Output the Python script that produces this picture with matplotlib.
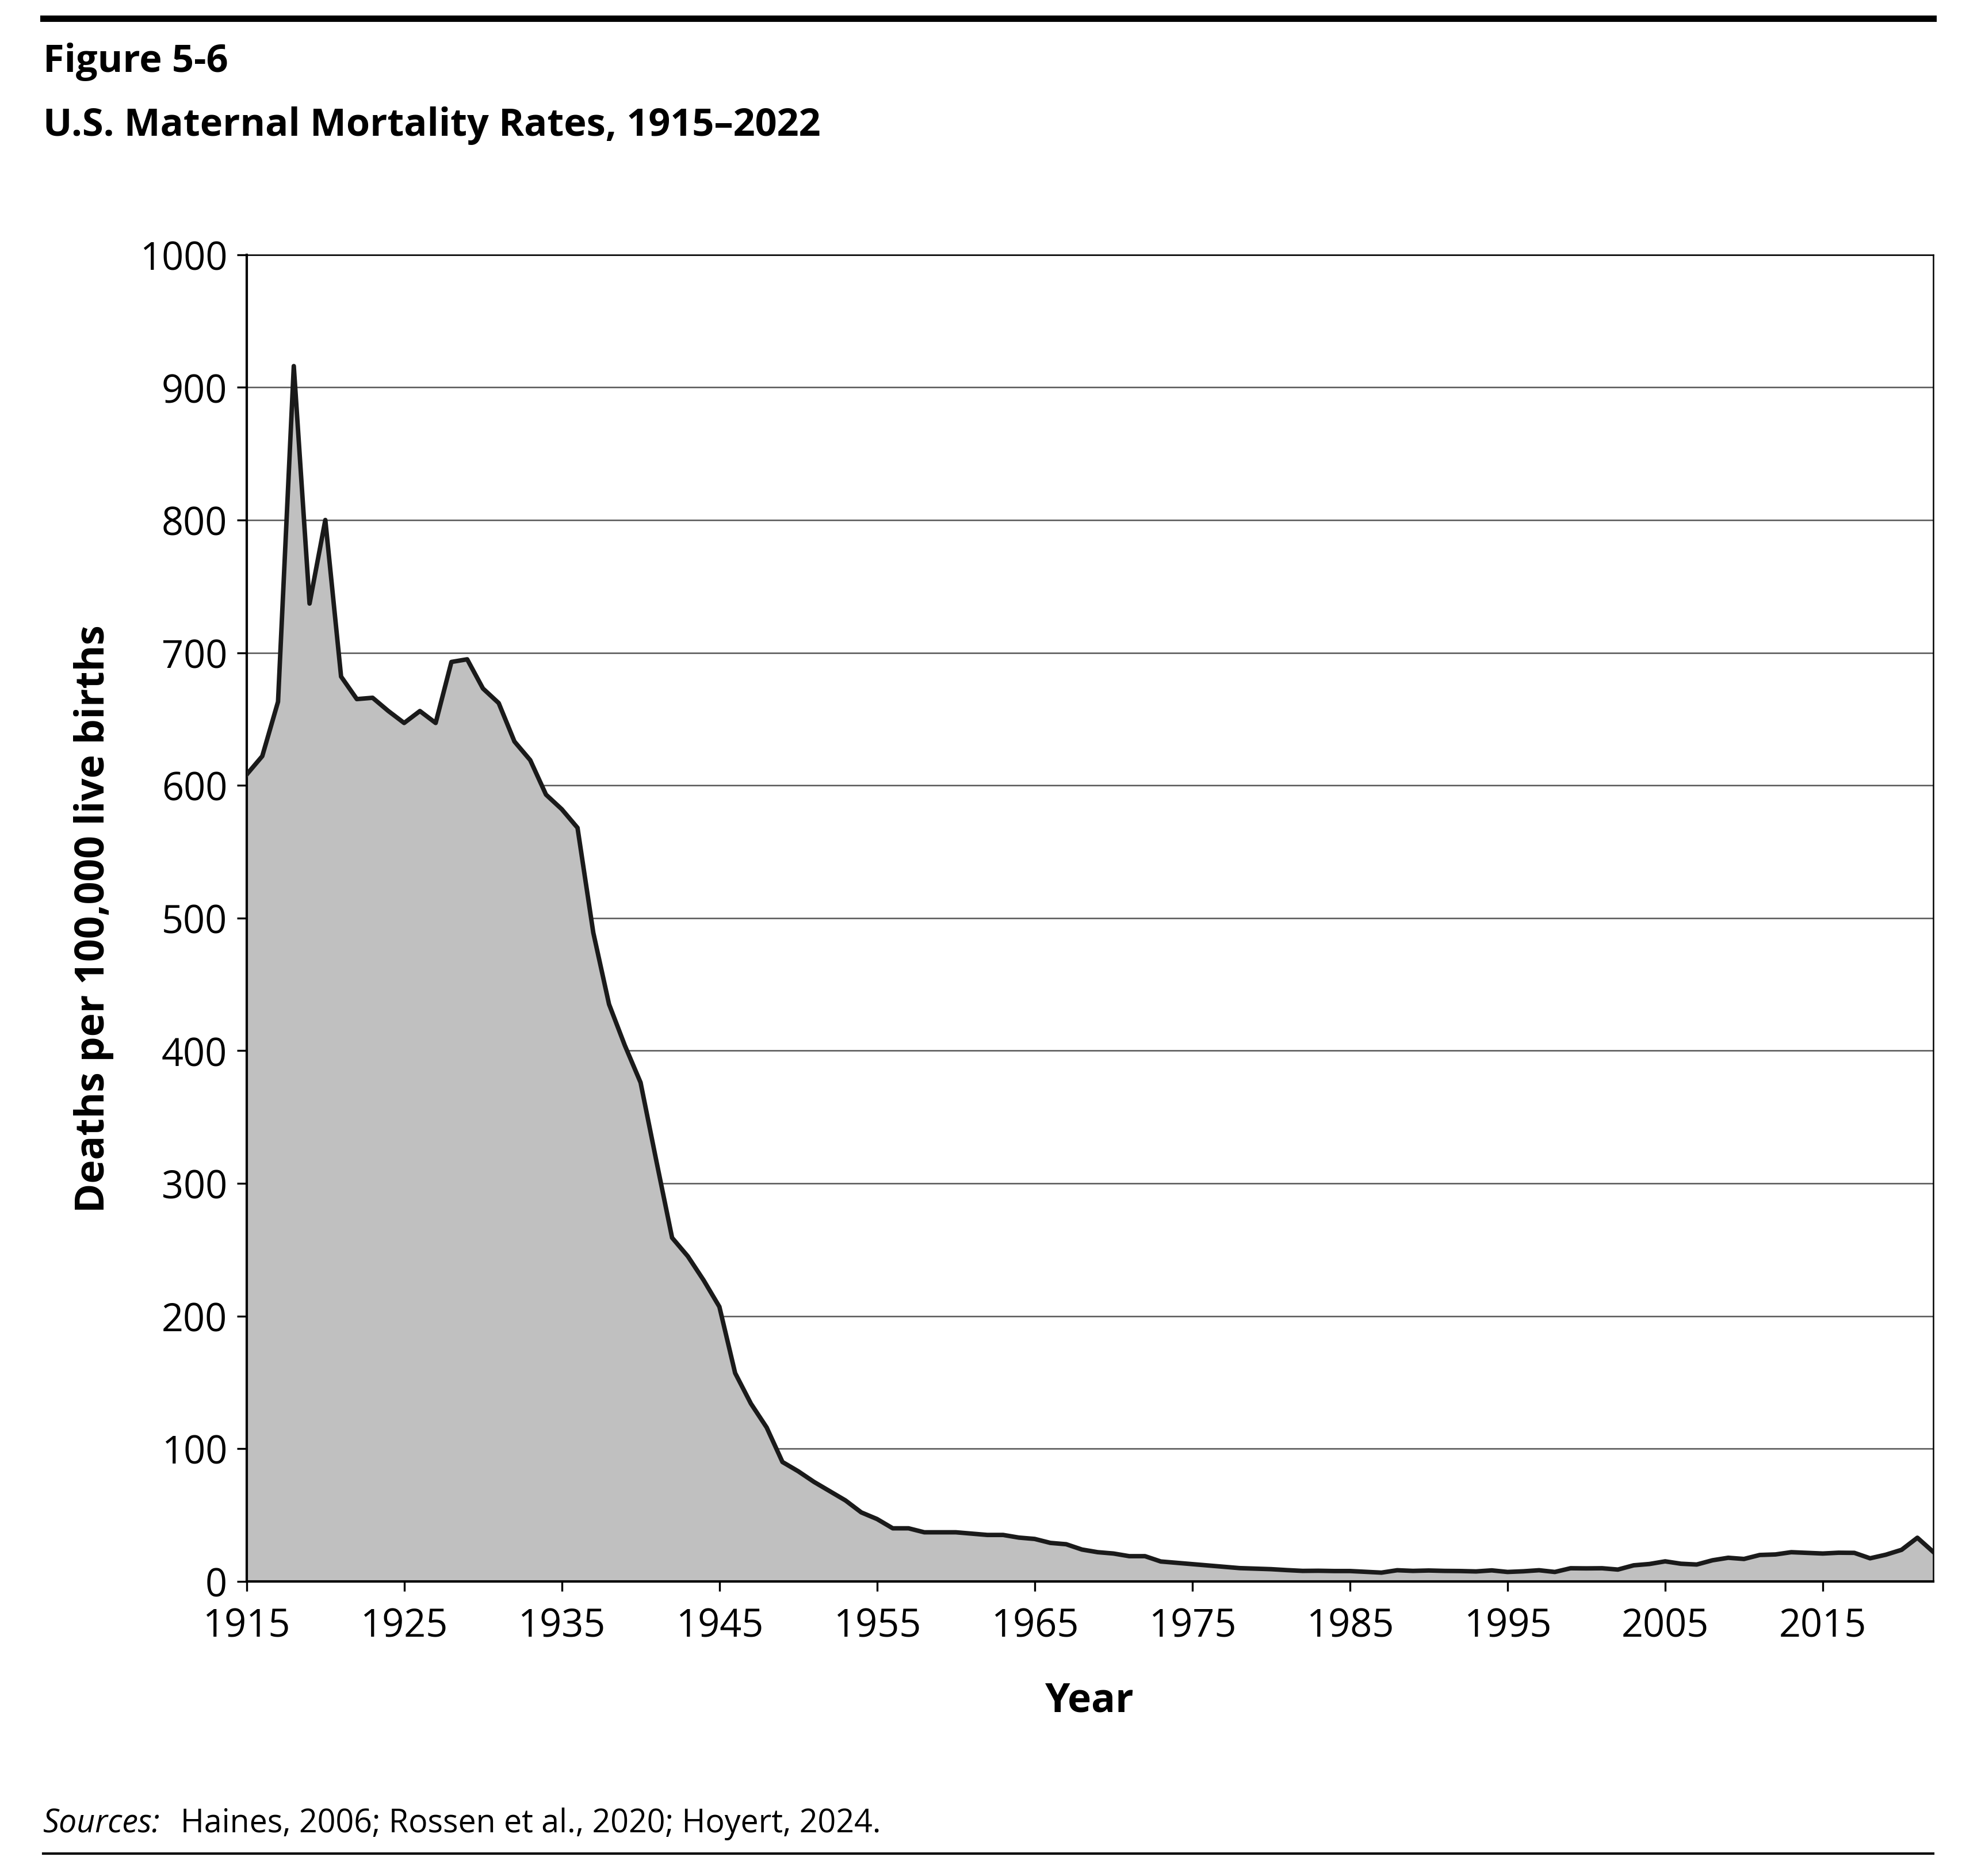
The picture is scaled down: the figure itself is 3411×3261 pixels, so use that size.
import matplotlib
matplotlib.use("Agg")
import matplotlib.pyplot as plt

years = list(range(1915, 2023))
rates = [608, 622, 663, 916, 737, 800, 682, 665, 666, 656,
         647, 656, 647, 693, 695, 673, 662, 633, 619, 593,
         582, 568, 489, 435, 404, 376, 317, 259, 245, 227,
         207, 157, 134, 116, 90, 83, 75, 68, 61, 52,
         47, 40, 40, 37, 37, 37, 36, 35, 35, 33,
         32, 29, 28, 24, 22, 21, 19, 19, 15, 14,
         13, 12, 11, 10, 9.6, 9.2, 8.5, 7.9, 8.0, 7.8,
         7.8, 7.2, 6.6, 8.4, 7.9, 8.2, 7.9, 7.8, 7.5, 8.3,
         7.1, 7.6, 8.4, 7.1, 9.9, 9.8, 9.9, 8.9, 12.1, 13.1,
         15.1, 13.3, 12.7, 15.9, 17.8, 16.9, 19.9, 20.3, 22.0, 21.5,
         21.0, 21.6, 21.5, 17.4, 20.1, 23.8, 32.9, 22.3]
tick_years = list(range(1915, 2016, 10))

plt.rcParams['font.family'] = ['Open Sans', 'DejaVu Sans']

fig = plt.figure(figsize=(17.06, 16.31), dpi=200)
ax = fig.add_axes([0.1256, 0.157, 0.8594, 0.707])

ax.fill_between(years, rates, 0, color='#c0c0c0', zorder=2)
ax.plot(years, rates, color='#1a1a1a', lw=2.8, zorder=3)
ax.set_xlim(1915, 2022)
ax.set_ylim(0, 1000)
ax.set_yticks(range(0, 1001, 100))
ax.set_xticks(tick_years)
ax.tick_params(labelsize=24, length=6, width=1.2)
ax.tick_params(axis='x', pad=10)
ax.tick_params(axis='y', pad=6)
ax.yaxis.grid(True, color='#555555', lw=0.9, zorder=1)
for s in ax.spines.values():
    s.set_linewidth(0.9)
ax.spines['left'].set_linewidth(1.5)
ax.spines['bottom'].set_linewidth(1.5)
ax.set_xlabel('Year', fontsize=25, fontweight='bold', labelpad=22)
ax.set_ylabel('Deaths per 100,000 live births', fontsize=25, fontweight='bold', labelpad=16)

fig.lines.append(plt.Line2D([0.022, 0.985], [0.990, 0.990], color='black', lw=4, transform=fig.transFigure))
fig.lines.append(plt.Line2D([0.022, 0.985], [0.012, 0.012], color='black', lw=1.5, transform=fig.transFigure))
fig.text(0.022, 0.967, 'Figure 5-6', fontsize=24, fontweight='bold', va='center')
fig.text(0.022, 0.933, 'U.S. Maternal Mortality Rates, 1915\u20132022', fontsize=24, fontweight='bold', va='center')
fig.text(0.022, 0.028, 'Sources:', fontsize=20, style='italic', va='center')
fig.text(0.092, 0.028, 'Haines, 2006; Rossen et al., 2020; Hoyert, 2024.', fontsize=20, va='center')

fig.savefig('out.png', dpi=200)
